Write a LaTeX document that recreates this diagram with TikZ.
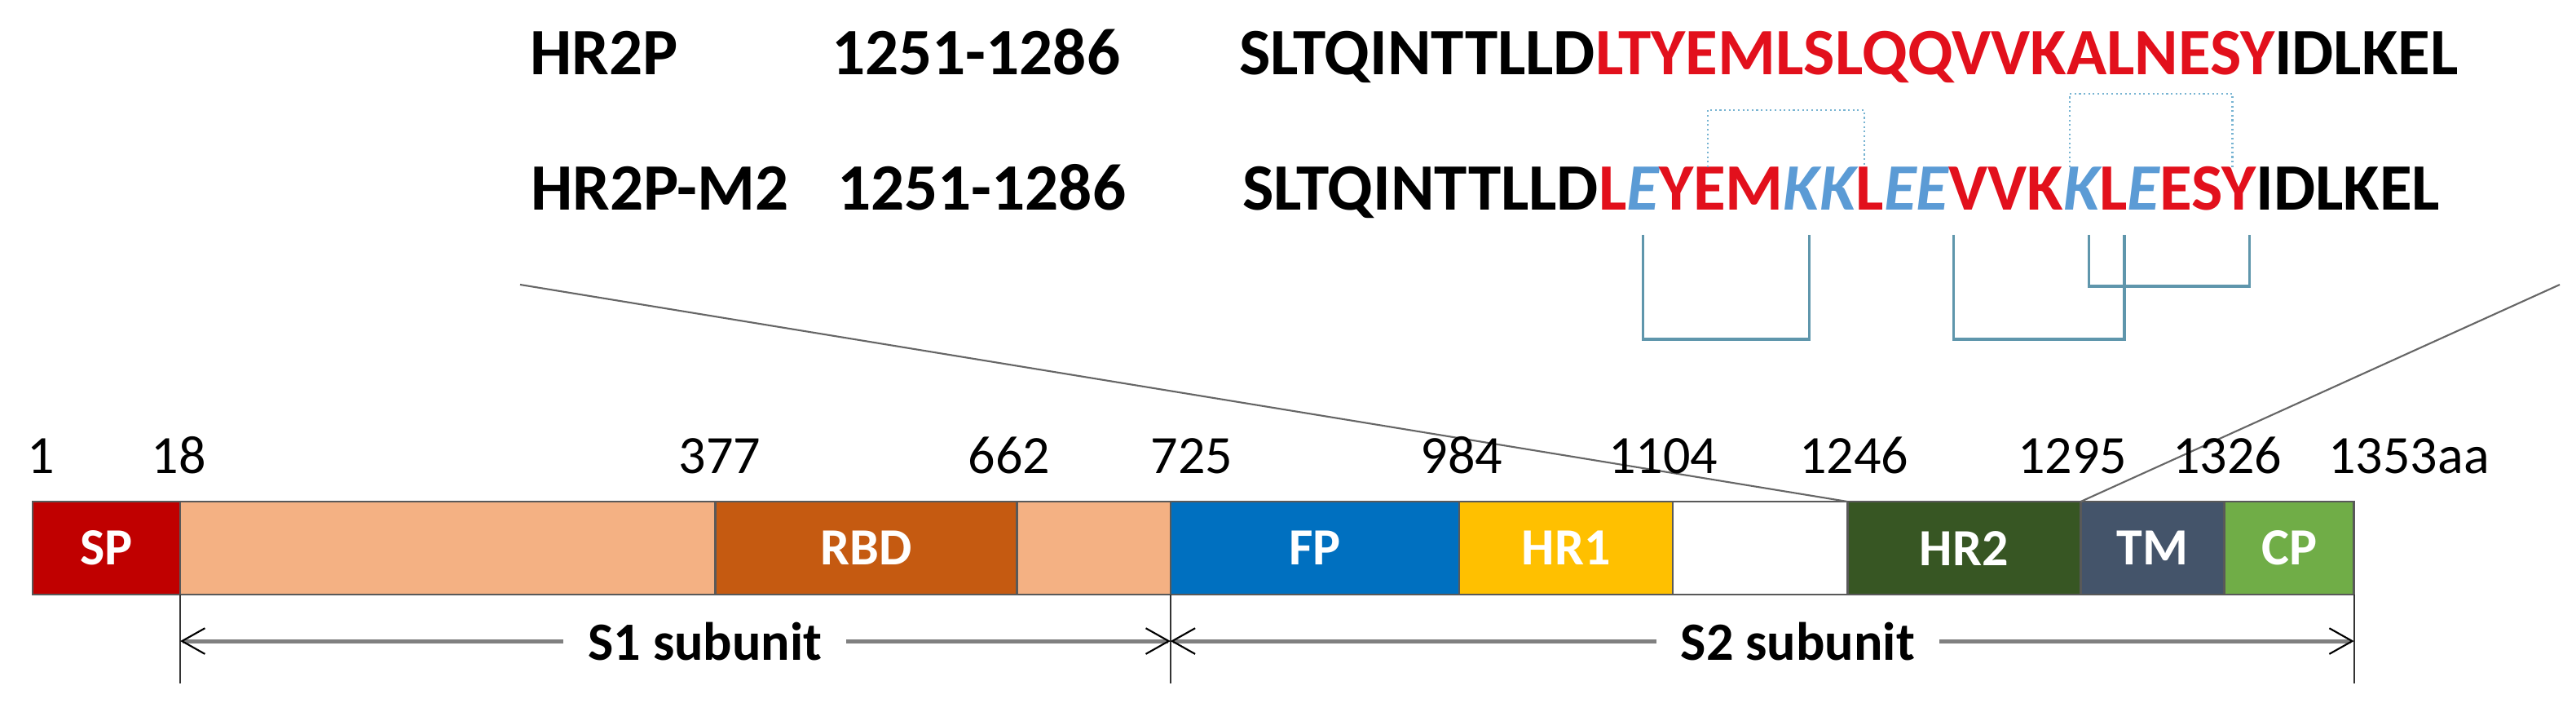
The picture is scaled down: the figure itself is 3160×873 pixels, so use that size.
\documentclass[tikz,border=0pt]{standalone}
\usepackage{fontspec}
\setmainfont{Carlito}
\usetikzlibrary{arrows.meta}
\usetikzlibrary{calc}
\definecolor{spred}{RGB}{192,0,0}
\definecolor{peach}{RGB}{244,177,131}
\definecolor{rbdbrown}{RGB}{197,90,17}
\definecolor{fpblue}{RGB}{0,112,192}
\definecolor{hronegold}{RGB}{255,192,0}
\definecolor{hrtwogreen}{RGB}{55,86,35}
\definecolor{tmslate}{RGB}{68,84,106}
\definecolor{cpgreen}{RGB}{112,173,71}
\definecolor{seqred}{RGB}{226,16,28}
\definecolor{seqblue}{RGB}{91,155,213}
\definecolor{bondblue}{RGB}{95,150,172}
\definecolor{saltblue}{RGB}{120,180,210}
\newcommand{\seqsize}{\fontsize{23.1}{27}\selectfont}
\newcommand{\numsize}{\fontsize{18.8}{22}\selectfont}

\begin{document}
\begin{tikzpicture}[x=0.01cm, y=-0.01cm,
  seq/.style={anchor=base west, inner sep=0pt, outer sep=0pt, font=\seqsize\bfseries},
  mut/.style={text=seqblue, font=\seqsize\bfseries\itshape},
  dom/.style={draw=black!65, line width=0.7pt, anchor=north west, minimum height=1.14cm,
    inner sep=0pt, outer sep=0pt, text=white, font=\fontsize{18.2}{22}\selectfont\bfseries},
  num/.style={anchor=base, inner sep=0pt, font=\numsize},
  sub/.style={fill=white, inner xsep=8.5pt, inner ysep=1pt, font=\numsize\bfseries},
  bond/.style={draw=bondblue, line width=0.9pt},
  salt/.style={draw=saltblue, line width=0.6pt, densely dotted},
  span/.style={draw=gray, line width=1.4pt, <->,
    >={Straight Barb[length=8pt, width=9pt, line width=0.6pt, color=black]}},
  tickline/.style={draw=black!80, line width=0.5pt},
  zoomline/.style={draw=black!60, line width=0.6pt}]

  \useasboundingbox[fill=white] (0,0) rectangle (3160,873);

  % sekwencje
  \node[seq] (hr2p) at (650,92) {HR2P};
  \node[seq] (res1) at (1020,92) {1251-1286};
  \node[seq] (a1) at (1520,92) {SLTQINTTLLD};
  \node[seq, text=seqred] (a2) at (a1.base east) {LTYEMLSLQQVVKALNESY};
  \node[seq] (a3) at (a2.base east) {IDLKEL};

  \node[seq] (hr2pm) at (651,258) {HR2P-M2};
  \node[seq] (res2) at (1027,258) {1251-1286};
  \node[seq] (m1) at (1524,258) {SLTQINTTLLD};
  \node[seq, text=seqred] (m2) at (m1.base east) {L};
  \node[seq, mut] (m3) at (m2.base east) {E};
  \node[seq, text=seqred] (m4) at (m3.base east) {YEM};
  \node[seq, mut] (m5) at (m4.base east) {KK};
  \node[seq, text=seqred] (m6) at (m5.base east) {L};
  \node[seq, mut] (m7) at (m6.base east) {EE};
  \node[seq, text=seqred] (m8) at (m7.base east) {VVK};
  \node[seq, mut] (m9) at (m8.base east) {K};
  \node[seq, text=seqred] (m10) at (m9.base east) {L};
  \node[seq, mut] (m11) at (m10.base east) {E};
  \node[seq, text=seqred] (m12) at (m11.base east) {ESY};
  \node[seq] (m13) at (m12.base east) {IDLKEL};

  % mostki nad i pod sekwencja
  \draw[salt] ($(m4.base west)+(60,-53)$) |- ($(m6.base west)+(10,-123)$) -- ++(0,70);
  \draw[salt] ($(m9.base west)+(8,-53)$) |- ($(m12.base east)+(-29,-143)$) -- ++(0,90);

  \draw[bond] ($(m3.base)+(0,30)$) |- ($(m5.base west)+(32,158)$) -- ++(0,-128);
  \draw[bond] ($(m8.base west)+(6,30)$) |- ($(m10.base east)+(-4,158)$) -- ++(0,-128);
  \draw[bond] ($(m9.base east)+(-13,30)$) |- ($(m12.base east)+(-8,93)$) -- ++(0,-63);

  % domeny
  \node[dom, fill=spred, minimum width=1.81cm] (sp) at (40,615) {SP};
  \node[dom, fill=peach, minimum width=6.56cm] (s1a) at (sp.north east) {};
  \node[dom, fill=rbdbrown, minimum width=3.70cm] (rbd) at (s1a.north east) {RBD};
  \node[dom, fill=peach, minimum width=1.88cm] (s1b) at (rbd.north east) {};
  \node[dom, fill=fpblue, minimum width=3.54cm] (fp) at (s1b.north east) {FP};
  \node[dom, fill=hronegold, minimum width=2.62cm] (hrone) at (fp.north east) {HR1};
  \node[dom, fill=white, minimum width=2.14cm] (link) at (hrone.north east) {};
  \node[dom, fill=hrtwogreen, minimum width=2.86cm] (hrtwo) at (link.north east) {HR2};
  \node[dom, fill=tmslate, minimum width=1.76cm] (tm) at (hrtwo.north east) {TM};
  \node[dom, fill=cpgreen, minimum width=1.59cm] (cp) at (tm.north east) {CP};

  % linie powiekszenia
  \coordinate (zl) at (638,349);
  \coordinate (zr) at (3140,349);
  \draw[zoomline] (hrtwo.north west) -- (zl);
  \draw[zoomline] (tm.north west) -- (zr);

  % numeracja
  \node[num] (n1) at (50,580) {1};
  \node[num] (n18) at (219,580) {18};
  \node[num] (n377) at (883,580) {377};
  \node[num] (n662) at (1238,580) {662};
  \node[num] (n725) at (1462,580) {725};
  \node[num] (n984) at (1793,580) {984};
  \node[num] (n1104) at (2040,580) {1104};
  \node[num] (n1246) at (2274,580) {1246};
  \node[num] (n1295) at (2542,580) {1295};
  \node[num] (n1326) at (2732,580) {1326};
  \node[num] (n1353) at (2955,580) {1353aa};

  % podjednostki
  \draw[tickline] (s1a.south west) -- ++(0,109);
  \draw[tickline] (fp.south west) -- ++(0,109);
  \draw[tickline] (cp.south east) -- ++(0,109);
  \draw[span] ($(s1a.south west)+(0,57)$) -- ($(fp.south west)+(0,57)$) node[pos=0.53, sub] (s1) {S1 subunit};
  \draw[span] ($(fp.south west)+(0,57)$) -- ($(cp.south east)+(0,57)$) node[pos=0.53, sub] (s2) {S2 subunit};
\end{tikzpicture}
\end{document}
